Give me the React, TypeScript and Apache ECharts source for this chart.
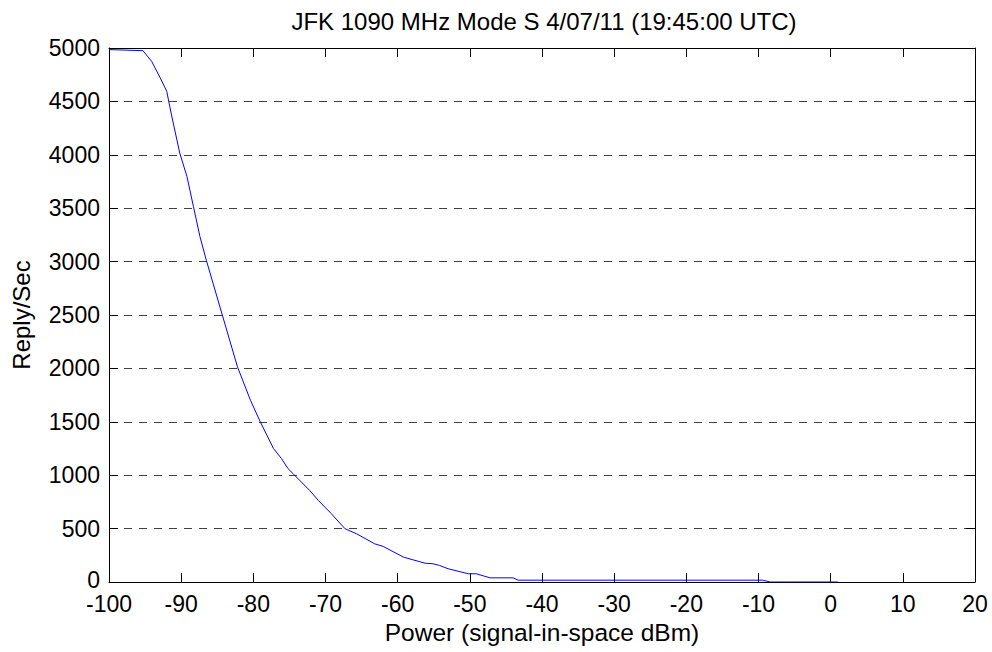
import React, { useEffect, useRef } from "react";
import * as echarts from "echarts";

const titleText = "JFK 1090 MHz Mode S 4/07/11 (19:45:00 UTC)";
const xName = "Power (signal-in-space dBm)";
const yName = "Reply/Sec";

const powerDbm = [
  -100, -95.3, -94.1, -92.9, -92.0, -91.4, -90.2, -89.2, -88.3, -87.4, -86.5,
  -84.3, -82.2, -80.4, -79.1, -77.2, -76.1, -75.2, -74.5, -72.2, -71.0, -69.2,
  -67.3, -65.7, -63.2, -62.0, -59.2, -56.2, -55.1, -54.2, -53.0, -50.2, -49.1,
  -47.2, -44.0, -43.3, -9.4, -8.4, 1,
];
const replyPerSec = [
  4985, 4975, 4876, 4720, 4595, 4392, 4017, 3797, 3516, 3234, 3009,
  2500, 2015, 1702, 1508, 1249, 1156, 1062, 1015, 858, 764, 640,
  499, 452, 358, 333, 233, 176, 171, 155, 124, 77, 77,
  39, 39, 17, 17, 0, 0,
];

const FONT = "Liberation Sans, Arial, sans-serif";

export default function App() {
  const ref = useRef<HTMLDivElement>(null);
  useEffect(() => {
    if (!ref.current) return;
    const chart = echarts.init(ref.current, null, { renderer: "svg" });
    const data = powerDbm.map((x, i) => [x, replyPerSec[i]]);
    const tickStyle = { show: true, inside: true, length: 9, lineStyle: { color: "#000", width: 1 } };
    chart.setOption({
      animation: false,
      backgroundColor: "#fff",
      title: {
        text: titleText,
        left: 539,
        textAlign: "center",
        top: 4,
        textStyle: { fontFamily: FONT, fontSize: 24, fontWeight: "normal", color: "#000" },
      },
      grid: { left: 109, right: 17, top: 48, bottom: 70, containLabel: false },
      xAxis: [
        {
          type: "value",
          min: -100,
          max: 20,
          interval: 10,
          name: xName,
          nameLocation: "middle",
          nameGap: 38,
          nameTextStyle: { fontFamily: FONT, fontSize: 24.5, color: "#000" },
          axisLine: { show: true, onZero: false, lineStyle: { color: "#000", width: 1 } },
          axisTick: tickStyle,
          axisLabel: {
            fontFamily: FONT, fontSize: 23, color: "#000", margin: 10,
            formatter: (v: number) => String(v),
          },
          splitLine: { show: false },
        },
        {
          type: "value",
          position: "top",
          min: -100,
          max: 20,
          interval: 10,
          axisLine: { show: true, onZero: false, lineStyle: { color: "#000", width: 1 } },
          axisTick: tickStyle,
          axisLabel: { show: false },
          splitLine: { show: false },
        },
      ],
      yAxis: [
        {
          type: "value",
          min: 0,
          max: 5000,
          interval: 500,
          name: yName,
          nameLocation: "middle",
          nameGap: 76,
          nameRotate: 90,
          nameTextStyle: { fontFamily: FONT, fontSize: 24, color: "#000" },
          axisLine: { show: true, onZero: false, lineStyle: { color: "#000", width: 1 } },
          axisTick: tickStyle,
          axisLabel: {
            fontFamily: FONT, fontSize: 23, color: "#000", margin: 9,
            formatter: (v: number) => (v === 0 ? "{z|0}" : String(v)),
            rich: {
              z: { fontFamily: FONT, fontSize: 23, color: "#000", padding: [0, 0, 5, 0] },
            },
          },
          splitLine: { show: true, lineStyle: { color: "#404040", width: 1, type: [8, 7] } },
        },
        {
          type: "value",
          position: "right",
          min: 0,
          max: 5000,
          interval: 500,
          axisLine: { show: true, onZero: false, lineStyle: { color: "#000", width: 1 } },
          axisTick: tickStyle,
          axisLabel: { show: false },
          splitLine: { show: false },
        },
      ],
      series: [
        {
          type: "line",
          data,
          showSymbol: false,
          symbol: "none",
          lineStyle: { color: "#0000ff", width: 1 },
          xAxisIndex: 0,
          yAxisIndex: 0,
        },
      ],
    });
    return () => chart.dispose();
  }, []);
  return (
    <div
      ref={ref}
      style={{ position: "absolute", left: 0, top: 0, width: 992, height: 652 }}
    />
  );
}
